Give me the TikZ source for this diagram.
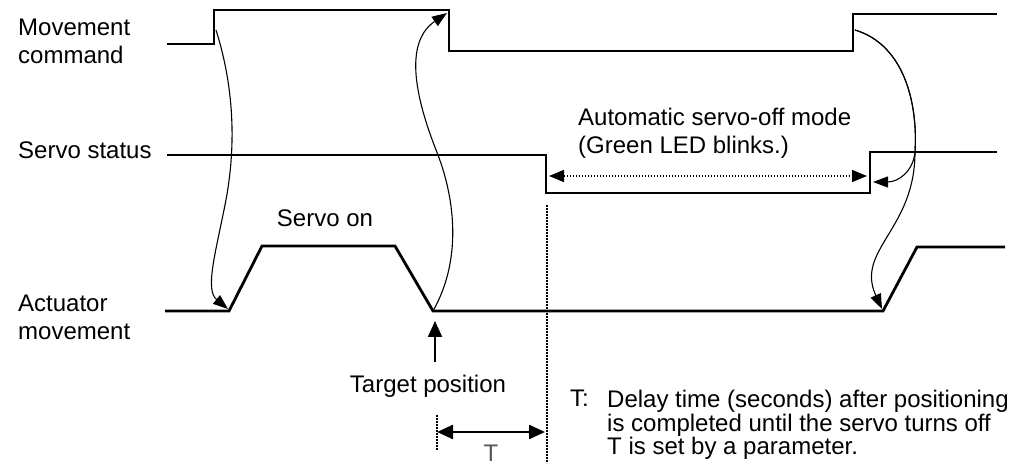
\documentclass[tikz,border=0pt]{standalone}
\usepackage{fontspec}
\setmainfont{Liberation Sans}
\usetikzlibrary{arrows.meta}
\tikzstyle{sig}=[draw,line width=2.8pt,line join=miter]
\tikzstyle{lbl}=[font=\fontsize{24}{28}\selectfont,align=left,inner sep=0pt]
\tikzstyle{note}=[font=\fontsize{24}{23.5}\selectfont,align=left,inner sep=0pt]
\tikzstyle{arr}=[-{Triangle[length=15pt,width=11pt]},line width=1.1pt]
\tikzstyle{dotline}=[line width=1.6pt,dash pattern=on 1.6pt off 1.4pt]
\tikzstyle{dotarr}=[{Triangle[length=15pt,width=12pt]}-{Triangle[length=15pt,width=12pt]},dotline]
\tikzstyle{biarr}=[{Triangle[length=16pt,width=14pt]}-{Triangle[length=16pt,width=14pt]},line width=2.4pt]
\tikzstyle{uparr}=[-{Triangle[length=16pt,width=14pt]},line width=2pt]

\begin{document}
\begin{tikzpicture}[x=1pt,y=-1pt]
  \useasboundingbox (0,0) rectangle (1013,465);
  % signal names
  \node[lbl,anchor=west] (mcLabel) at (18,41) {Movement\\command};
  \node[lbl,anchor=west] (ssLabel) at (18,150) {Servo status};
  \node[lbl,anchor=west] (amLabel) at (18,317) {Actuator\\movement};
  % movement command
  \coordinate (mc0) at (167,44);
  \coordinate (mc1) at (214,44);
  \coordinate (mc2) at (214,10);
  \coordinate (mc3) at (449,10);
  \coordinate (mc4) at (449,51);
  \coordinate (mc5) at (853,51);
  \coordinate (mc6) at (853,14);
  \coordinate (mc7) at (997,14);
  \draw[sig] (mc0) -- (mc1) -- (mc2) -- (mc3) -- (mc4) -- (mc5) -- (mc6) -- (mc7);
  % servo status
  \coordinate (ss0) at (167,155);
  \coordinate (ss1) at (546,155);
  \coordinate (ss2) at (546,193);
  \coordinate (ss3) at (870,193);
  \coordinate (ss4) at (870,152);
  \coordinate (ss5) at (997,152);
  \draw[sig] (ss0) -- (ss1) -- (ss2) -- (ss3) -- (ss4) -- (ss5);
  % actuator movement
  \coordinate (am0) at (165,311);
  \coordinate (am1) at (229,311);
  \coordinate (am2) at (262,246);
  \coordinate (am3) at (395,246);
  \coordinate (am4) at (433,311);
  \coordinate (am5) at (883,311);
  \coordinate (am6) at (917,247);
  \coordinate (am7) at (1005,247);
  \draw[sig] (am0) -- (am1) -- (am2) -- (am3) -- (am4) -- (am5) -- (am6) -- (am7);

  % cause -> effect arrows
  \coordinate (mcA) at (216,30);
  \coordinate (mcB) at (855,30);
  \coordinate (mcTip) at (447,13);
  \coordinate (ssTip) at (873,182);
  \coordinate (amTipA) at (228,309);
  \coordinate (amTipB) at (882,309);
  \draw[arr] (mcA) .. controls (235,90) and (236,150) .. (225,205)
             .. controls (215,255) and (205,290) .. (amTipA);
  \draw[arr] (am4) .. controls (462,260) and (455,200) .. (438,155)
             .. controls (420,110) and (400,45) .. (mcTip);
  \draw[arr] (mcB) .. controls (905,45) and (918,105) .. (915,152)
             .. controls (913,172) and (898,182) .. (ssTip);
  \draw[arr] (mcB) .. controls (905,45) and (918,105) .. (915,152)
             .. controls (915,230) and (855,250) .. (amTipB);

  % servo-off period
  \coordinate (offL) at (549,176);
  \coordinate (offR) at (867,176);
  \draw[dotarr] (offL) -- (offR);
  \node[lbl,anchor=west] (offLabel) at (578,133) {Automatic servo-off mode\\(Green LED blinks.)};
  \node[lbl] (onLabel) at (325,218) {Servo on};

  % target position and delay T
  \coordinate (tgtTail) at (435,362);
  \coordinate (tgtHead) at (435,321);
  \draw[uparr] (tgtTail) -- (tgtHead);
  \node[lbl] (tgtLabel) at (428,386) {Target position};
  \coordinate (offTop) at (547,205);
  \coordinate (offBot) at (547,463);
  \draw[dotline] (offTop) -- (offBot);
  \coordinate (tTop) at (437,415);
  \coordinate (tBot) at (437,450);
  \draw[dotline] (tTop) -- (tBot);
  \coordinate (tL) at (437,432);
  \coordinate (tR) at (545,432);
  \draw[biarr] (tL) -- (tR);
  \node[lbl,text=black!65] (tLabel) at (491,453) {T};
  \node[note,anchor=north west] (tKey) at (570,390) {T:};
  \node[note,anchor=north west] (tNote) at (607,390) {Delay time (seconds) after positioning\\is completed until the servo turns off\\T is set by a parameter.};
\end{tikzpicture}
\end{document}
